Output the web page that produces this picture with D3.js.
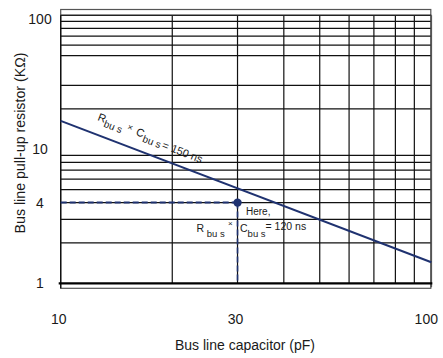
<!DOCTYPE html>
<html>
<head>
<meta charset="utf-8">
<script src="https://cdn.jsdelivr.net/npm/d3@7"></script>
<style>
  body { margin: 0; background: #fff; }
  text { font-family: "Liberation Sans", Arial, sans-serif; fill: #1a1a1a; }
</style>
</head>
<body>
<div id="container"></div>
<script>
// chart values
var xTicks = [10, 30, 100];
var yTicks = [1, 4, 10, 100];
var xGrid = [20, 30, 40, 50, 60, 70, 80, 90];
var yGrid = [2, 3, 4, 5, 6, 7, 8, 9, 20, 30, 50, 60, 70, 80, 90];
var lineC = [10, 100];          // pF
var lineR = [16.3, 1.435];      // kOhm
var pointC = 30, pointR = 4;

var W = 443, H = 358;

var svg = d3.select("#container")
  .append("svg")
    .attr("width", W)
    .attr("height", H);

var x = d3.scaleLog()
  .domain([10, 100])
  .range([60.7, 431.3]);

var y = d3.scaleLog()
  .domain([1, 100])
  .range([283.3, 15.3]);

// outer frame (offset box behind the grid)
svg.append("rect")
  .attr("x", x(10))
  .attr("y", 9.5)
  .attr("width", x(100) - x(10) - 0.5)
  .attr("height", 288.3 - 9.5)
  .attr("fill", "none")
  .attr("stroke", "#555")
  .attr("stroke-width", 1.2);

// grid
svg.selectAll(".vgrid")
  .data(xGrid)
  .enter()
  .append("line")
    .attr("x1", function(d) { return x(d); })
    .attr("x2", function(d) { return x(d); })
    .attr("y1", y(100))
    .attr("y2", y(1))
    .attr("stroke", "#111")
    .attr("stroke-width", 1.2);

svg.selectAll(".hgrid")
  .data(yGrid)
  .enter()
  .append("line")
    .attr("x1", x(10))
    .attr("x2", x(100))
    .attr("y1", function(d) { return y(d); })
    .attr("y2", function(d) { return y(d); })
    .attr("stroke", "#111")
    .attr("stroke-width", 1.2);

// border of grid
svg.append("line")
  .attr("x1", x(10)).attr("x2", x(100))
  .attr("y1", y(100)).attr("y2", y(100))
  .attr("stroke", "#222").attr("stroke-width", 1.4);
svg.append("line")
  .attr("x1", x(10)).attr("x2", x(10))
  .attr("y1", y(100)).attr("y2", 288.3)
  .attr("stroke", "#111").attr("stroke-width", 1.4);
svg.append("line")
  .attr("x1", x(100)).attr("x2", x(100))
  .attr("y1", y(100)).attr("y2", y(1) + 4)
  .attr("stroke", "#555").attr("stroke-width", 1.6);
svg.append("line")
  .attr("x1", x(10) - 2).attr("x2", x(100) + 1)
  .attr("y1", y(1)).attr("y2", y(1))
  .attr("stroke", "#000").attr("stroke-width", 2.2);

// tick labels
svg.selectAll(".ylab")
  .data(yTicks)
  .enter()
  .append("text")
    .attr("x", 40)
    .attr("y", function(d) { return y(d) + (d === 100 ? 4 : 0); })
    .attr("dy", "0.36em")
    .attr("text-anchor", "middle")
    .style("font-size", "14px")
    .text(function(d) { return d; });

svg.selectAll(".xlab")
  .data(xTicks)
  .enter()
  .append("text")
    .attr("x", function(d) { return x(d) - (d === 100 ? 5 : 2); })
    .attr("y", 324)
    .attr("text-anchor", "middle")
    .style("font-size", "14px")
    .text(function(d) { return d; });

// axis titles
svg.append("text")
  .attr("x", 245)
  .attr("y", 350)
  .attr("text-anchor", "middle")
  .style("font-size", "14px")
  .text("Bus line capacitor (pF)");

svg.append("text")
  .attr("transform", "translate(25,143)rotate(-90)")
  .attr("text-anchor", "middle")
  .style("font-size", "14.2px")
  .text("Bus line pull-up resistor (K\u03A9)");

var navy = "#1f3270";

// R x C = 150 ns line
svg.append("path")
  .datum(d3.zip(lineC, lineR))
  .attr("fill", "none")
  .attr("stroke", navy)
  .attr("stroke-width", 2)
  .attr("d", d3.line()
    .x(function(d) { return x(d[0]); })
    .y(function(d) { return y(d[1]); }));

// dashed guides to the chosen point
svg.append("line")
  .attr("x1", x(10)).attr("x2", x(pointC))
  .attr("y1", y(pointR)).attr("y2", y(pointR))
  .attr("stroke", navy)
  .attr("stroke-width", 2)
  .attr("stroke-dasharray", "6,3");
svg.append("line")
  .attr("x1", x(pointC)).attr("x2", x(pointC))
  .attr("y1", y(pointR)).attr("y2", y(1))
  .attr("stroke", navy)
  .attr("stroke-width", 1.6)
  .attr("stroke-dasharray", "6,3");

svg.append("circle")
  .attr("cx", x(pointC))
  .attr("cy", y(pointR))
  .attr("r", 4.2)
  .attr("fill", navy);

// label along the line
var lab = svg.append("text")
  .attr("transform", "translate(97,120)rotate(21)")
  .style("font-size", "11px");
lab.append("tspan").attr("x", 0).attr("y", 0).text("R");
lab.append("tspan").attr("x", 8).attr("y", 4).style("font-size", "10px").text("bu s");
lab.append("tspan").attr("x", 31).attr("y", -2).style("font-size", "9px").text("\u00D7");
lab.append("tspan").attr("x", 41).attr("y", 0).text("C");
lab.append("tspan").attr("x", 49.5).attr("y", 4).style("font-size", "10px").text("bu s");
lab.append("tspan").attr("x", 70).attr("y", 3).text("= 150 ns");

// label at the point
svg.append("text")
  .attr("x", 246)
  .attr("y", 215)
  .style("font-size", "10px")
  .text("Here,");

var lab2 = svg.append("text")
  .attr("x", 196.5)
  .attr("y", 232)
  .style("font-size", "10.5px");
lab2.append("tspan").text("R");
lab2.append("tspan").attr("dy", 5).style("font-size", "9.5px").text(" bu s");
lab2.append("tspan").attr("x", 228).attr("dy", -11).style("font-size", "8px").text("\u00D7");
lab2.append("tspan").attr("x", 240).attr("dy", 6).text("C");
lab2.append("tspan").attr("dy", 5).style("font-size", "9.5px").text("bu s");
lab2.append("tspan").attr("dy", -7).text("= 120 ns");
</script>
</body>
</html>
